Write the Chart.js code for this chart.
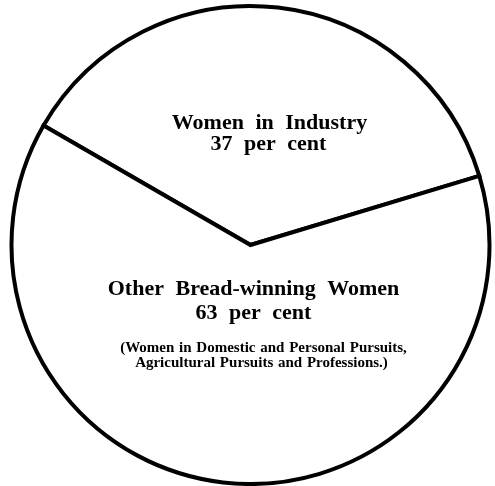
<!DOCTYPE html>
<html>
<head>
<meta charset="utf-8">
<script src="https://cdn.jsdelivr.net/npm/chart.js@4.4.1/dist/chart.umd.min.js"></script>
<style>
  html, body { margin: 0; padding: 0; background: #fff; }
  #wrap { width: 495px; height: 486px; }
</style>
</head>
<body>
<div id="wrap"><canvas id="pie"></canvas></div>
<script>
// share of bread-winning women
var categories = ['Women in Industry', 'Other Bread-winning Women'];
var shares = [37, 63];
var notes = [[], ['(Women in Domestic and Personal Pursuits,', 'Agricultural Pursuits and Professions.)']];

// writes the slice captions inside the circle
var captions = {
  id: 'captions',
  afterDatasetsDraw: function(chart) {
    var ctx = chart.ctx;
    var arc = chart.getDatasetMeta(0).data[0];
    var cx = arc.x, cy = arc.y;
    ctx.save();
    ctx.fillStyle = '#000';
    ctx.textAlign = 'center';
    ctx.textBaseline = 'middle';
    ctx.font = 'bold 22px "Liberation Serif", serif';
    ctx.wordSpacing = '6px';
    ctx.fillText(categories[0], cx + 19, cy - 122);
    ctx.fillText(shares[0] + ' per cent', cx + 18, cy - 101);
    ctx.fillText(categories[1], cx + 3, cy + 44);
    ctx.fillText(shares[1] + ' per cent', cx + 3, cy + 68);
    ctx.font = 'bold 15px "Liberation Serif", serif';
    ctx.wordSpacing = '1px';
    ctx.fillText(notes[1][0], cx + 13, cy + 103);
    ctx.fillText(notes[1][1], cx + 11, cy + 118);
    ctx.restore();
  }
};

new Chart(document.getElementById('pie'), {
  type: 'pie',
  data: {
    labels: categories,
    datasets: [{
      data: shares,
      backgroundColor: '#fff',
      borderColor: '#000',
      borderWidth: 4,
      borderJoinStyle: 'miter'
    }]
  },
  options: {
    responsive: true,
    maintainAspectRatio: false,
    animation: false,
    rotation: -60,
    layout: { padding: { left: 6, right: 0, top: 4, bottom: 0 } },
    plugins: {
      legend: { display: false },
      tooltip: { enabled: false }
    }
  },
  plugins: [captions]
});
</script>
</body>
</html>
